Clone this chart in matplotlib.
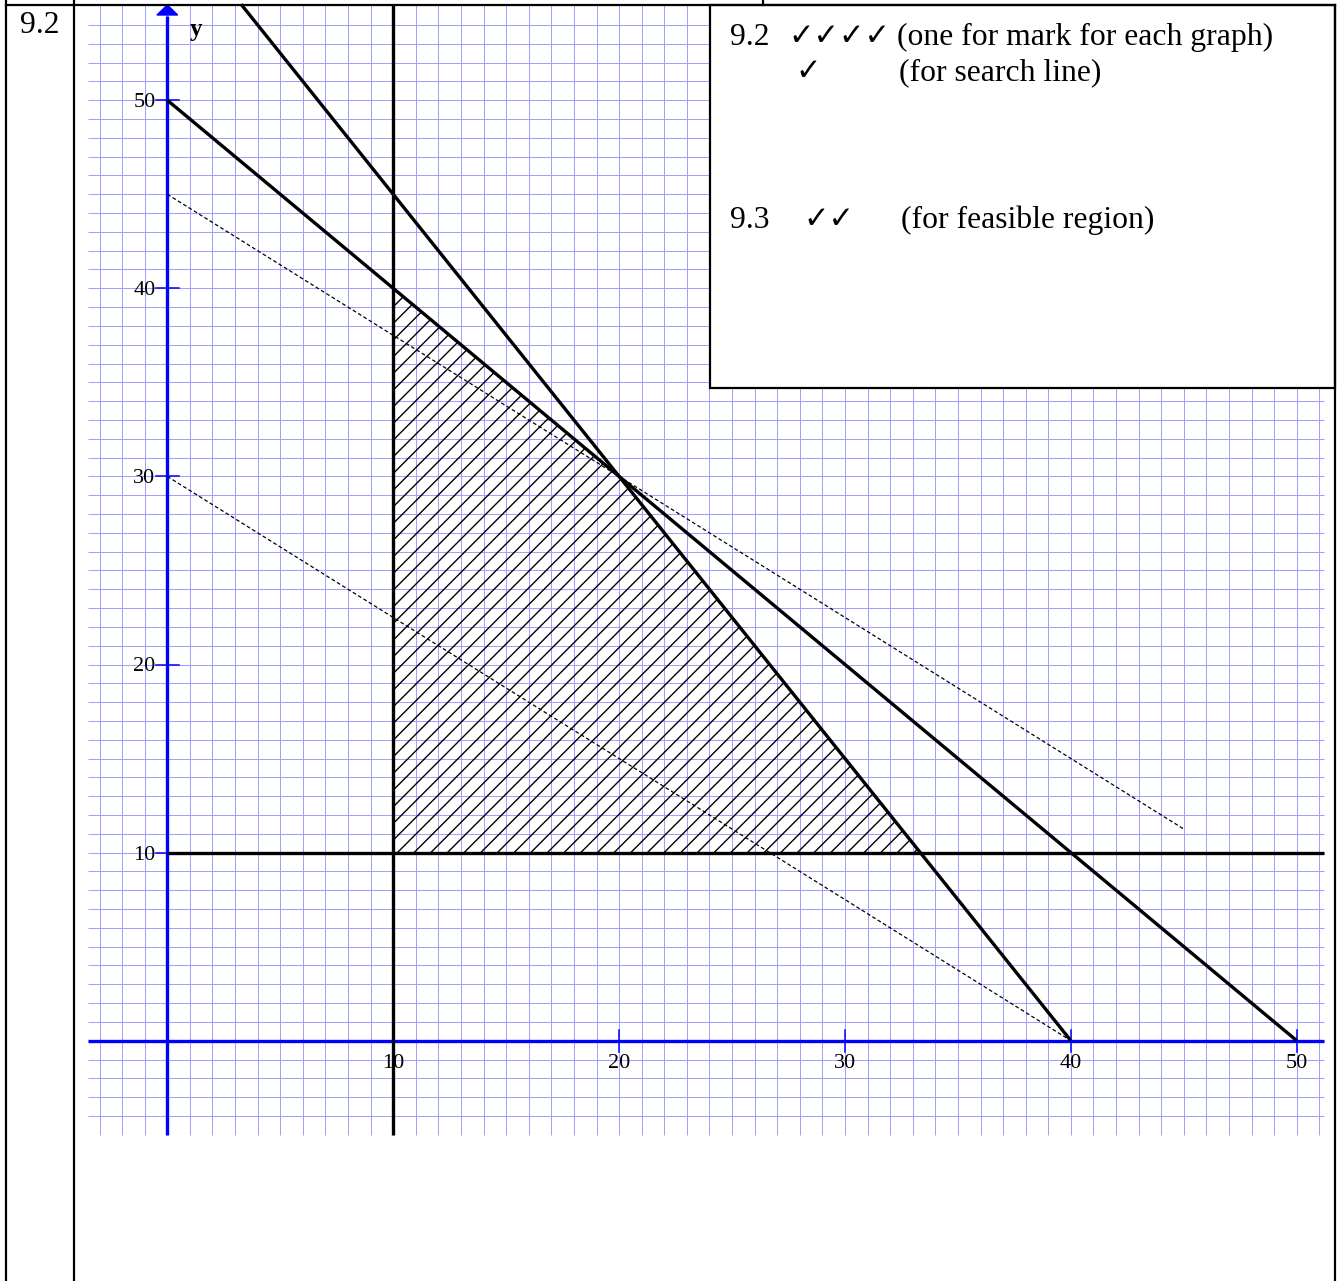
import numpy as np
import matplotlib.pyplot as plt
from matplotlib.patches import Polygon, Rectangle
from matplotlib.lines import Line2D

# constraints: a*x + b*y = c
con_a = [1, 3]
con_b = [1, 2]
con_c = [50, 120]
x_min = 10
y_min = 10

# objective 3x + 4y, drawn as search lines at two levels
obj_a, obj_b = 3, 4
search_levels = [120, 180]
search_x_end = [40, 45]

x_ticks = [10, 20, 30, 40, 50]
y_ticks = [10, 20, 30, 40, 50]

W, H = 1337, 1281
fig = plt.figure(figsize=(W / 100, H / 100), dpi=100)
ax = fig.add_axes([0, 0, 1, 1])
ax.axis('off')

# data window so that the grid sits where the page puts it
x0_px, x_scale = 167.3, 22.59
y0_px, y_scale = 1040.7, 18.81
ax.set_xlim(-x0_px / x_scale, (W - x0_px) / x_scale)
ax.set_ylim((y0_px - H) / y_scale, y0_px / y_scale)

gx_lo, gx_hi = -3.5, 51.2
gy_lo, gy_hi = -5.0, 55.1
serif = ['Liberation Serif', 'DejaVu Sans']

# graph paper
ax.vlines(np.arange(-3, 52), gy_lo, gy_hi, color='#a0a0ff', lw=0.72, zorder=1)
ax.hlines(np.arange(-4, 55), gx_lo, gx_hi, color='#a0a0ff', lw=0.72, zorder=1)

# blue axes with arrow on y
blue = '#0000ff'
ax.plot([gx_lo, gx_hi], [0, 0], color=blue, lw=2.4, zorder=2, solid_capstyle='butt')
ax.plot([0, 0], [gy_lo, 54.5], color=blue, lw=2.4, zorder=2, solid_capstyle='butt')
ax.add_patch(Polygon([(-0.46, 54.53), (0.46, 54.53), (0, 55.06)], closed=True,
                     color=blue, zorder=2))
for t in x_ticks:
    ax.plot([t, t], [-0.58, 0.58], color=blue, lw=1.1, zorder=2)
    ax.text(t, -1.45, str(t), ha='center', va='baseline', fontsize=16,
            family=serif, zorder=4)
for t in y_ticks:
    ax.plot([-0.5, 0.5], [t, t], color=blue, lw=1.1, zorder=2)
    ax.text(-0.52, t - 0.37, str(t), ha='right', va='baseline', fontsize=16,
            family=serif, zorder=4)
ax.text(1.25, 53.4, 'y', ha='center', va='baseline', fontsize=18,
        fontweight='bold', family=serif, zorder=4)

# feasible region corners
def meet(a1, b1, c1, a2, b2, c2):
    m = np.array([[a1, b1], [a2, b2]], dtype=float)
    return np.linalg.solve(m, [c1, c2])

corners = [
    (x_min, y_min),
    tuple(meet(1, 0, x_min, con_a[0], con_b[0], con_c[0])),
    tuple(meet(con_a[0], con_b[0], con_c[0], con_a[1], con_b[1], con_c[1])),
    tuple(meet(0, 1, y_min, con_a[1], con_b[1], con_c[1])),
]
ax.add_patch(Polygon(corners, closed=True, facecolor='none', edgecolor='black',
                     hatch='//', lw=0.8, zorder=2.5))

# constraint lines
k = dict(color='black', lw=2.4, zorder=3, solid_capstyle='butt')
ax.plot([x_min, x_min], [gy_lo, gy_hi], **k)
ax.plot([0, gx_hi], [y_min, y_min], **k)
for a, b, c in zip(con_a, con_b, con_c):
    y_top = min(c / b, gy_hi)
    x_start = (c - b * y_top) / a
    ax.plot([x_start, c / a], [y_top, 0], **k)

# search lines
for lev, xe in zip(search_levels, search_x_end):
    xs = np.array([0, xe])
    ax.plot(xs, (lev - obj_a * xs) / obj_b, color='black', lw=0.9,
            ls=(0, (3, 2)), zorder=3)

# page layout: table rules, answer box and its text
def fp(x, y):
    return (x / W, 1 - y / H)

rule = dict(color='black', lw=1.6, transform=fig.transFigure, zorder=5)
for (x1, y1), (x2, y2) in [((6, 0), (6, H)), ((74, 0), (74, H)),
                           ((1335, 5), (1335, H)), ((6, 5), (1335, 5)),
                           ((763, 0), (763, 5))]:
    p1, p2 = fp(x1, y1), fp(x2, y2)
    fig.add_artist(Line2D([p1[0], p2[0]], [p1[1], p2[1]], **rule))

bx, by = fp(710, 388)
fig.add_artist(Rectangle((bx, by), (1335 - 710) / W, (388 - 5) / H,
                         transform=fig.transFigure, facecolor='white',
                         edgecolor='black', lw=1.6, zorder=4))

fs = 22.8
ck = 22
txt = dict(transform=fig.transFigure, fontsize=fs, family=serif,
           va='baseline', ha='left', zorder=6)
fig.text(*fp(20, 33), '9.2', **txt)
fig.text(*fp(730, 45), '9.2', **txt)
fig.text(*fp(788, 45), '\u2713\u2713\u2713\u2713', **{**txt, 'fontsize': ck})
fig.text(*fp(897, 45), '(one for mark for each graph)', **txt)
fig.text(*fp(795, 80), '\u2713', **{**txt, 'fontsize': ck})
fig.text(*fp(899, 80), '(for search line)', **txt)
fig.text(*fp(730, 228), '9.3', **txt)
fig.text(*fp(803, 228), '\u2713\u2713', **{**txt, 'fontsize': ck})
fig.text(*fp(901, 228), '(for feasible region)', **txt)

fig.savefig('out.png', dpi=100)
